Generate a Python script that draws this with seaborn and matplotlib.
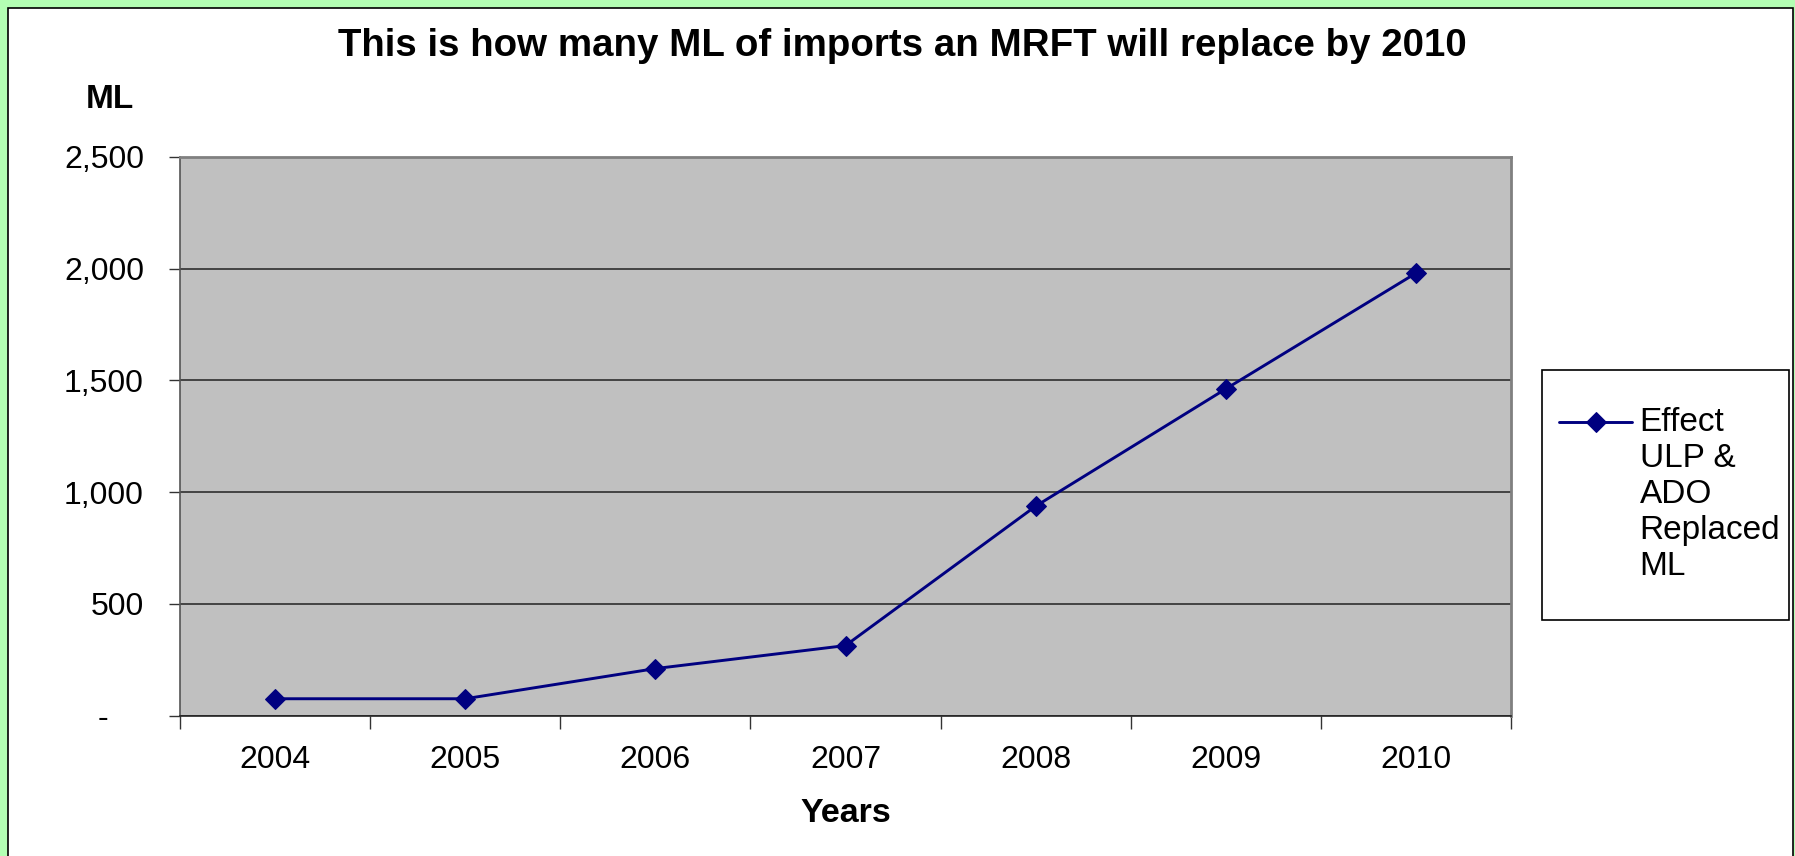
import numpy as np
import pandas as pd
import matplotlib
matplotlib.use("Agg")
import matplotlib.pyplot as plt
import seaborn as sns
from matplotlib.patches import Rectangle
from matplotlib.transforms import ScaledTranslation
from matplotlib.font_manager import FontProperties

# ---- data -------------------------------------------------------------
years = ["2004", "2005", "2006", "2007", "2008", "2009", "2010"]
replaced_ml = [75, 75, 210, 313, 937, 1462, 1980]
series_label = "Effect\nULP &\nADO\nReplaced\nML"
y_ticks = [0, 500, 1000, 1500, 2000, 2500]
y_tick_labels = ["-", "500", "1,000", "1,500", "2,000", "2,500"]

title_text = "This is how many ML of imports an MRFT will replace by 2010"

df = pd.DataFrame({"Year": years, "ML": replaced_ml})
df["pos"] = np.arange(len(years))

# ---- style ------------------------------------------------------------
sns.set_theme(style="white")
plt.rcParams["font.family"] = ["Liberation Sans", "DejaVu Sans"]
plt.rcParams["text.color"] = "black"

W, H, DPI = 1795, 856, 100
fig = plt.figure(figsize=(W / DPI, H / DPI), dpi=DPI, facecolor="#B3FFB3")

# white chart panel inside the green surround
fig.patches.append(Rectangle((8 / W, -0.01), (1793 - 8) / W, 1.01 - 8 / H,
                             transform=fig.transFigure, facecolor="white",
                             edgecolor="black", linewidth=1.2, zorder=-5))

ax = fig.add_axes([180 / W, 1 - 715.5 / H, (1511 - 180) / W, (715.5 - 157) / H])
ax.set_facecolor("#C0C0C0")

navy = "#000080"
sns.lineplot(data=df, x="pos", y="ML", ax=ax, color=navy, linewidth=2.1,
             marker="D", markersize=10.5, markeredgecolor=navy,
             markerfacecolor=navy, label=series_label, legend=False)

ax.set_xlim(-0.5, len(years) - 0.5)
ax.set_ylim(0, 2500)

# y axis
ax.set_yticks(y_ticks)
ax.set_yticklabels(y_tick_labels)
ax.tick_params(axis="y", which="major", direction="out", length=8, width=1,
               color="#333333", pad=18, labelsize=23, labelcolor="black", left=True)
ax.yaxis.grid(True, color="#222222", linewidth=1.1)
ax.set_axisbelow(True)

# x axis: labels at category centres, ticks on category boundaries
ax.set_xticks(df["pos"])
ax.set_xticklabels(years)
ax.set_xticks(np.arange(-0.5, len(years)), minor=True)
ax.tick_params(axis="x", which="major", length=0, pad=21, labelsize=23,
               labelcolor="black")
ax.tick_params(axis="x", which="minor", direction="out", length=9, width=1,
               color="#333333", bottom=True)
ax.set_xlabel("Years", fontsize=24.5, fontweight="bold", labelpad=17,
              color="black")
ax.set_ylabel("")

for side in ["top", "right"]:
    ax.spines[side].set_color("#808080")
    ax.spines[side].set_linewidth(2)
ax.spines["left"].set_color("#555555")
ax.spines["left"].set_linewidth(1.2)
ax.spines["bottom"].set_color("#222222")
ax.spines["bottom"].set_linewidth(1.2)

# "-" for zero sits left of the number column (accounting style)
zero_label = ax.yaxis.get_major_ticks()[0].label1
zero_label.set_transform(zero_label.get_transform()
                         + ScaledTranslation(-36 / DPI, 0, fig.dpi_scale_trans))

# titles
fig.text(902 / W, 1 - 46 / H, title_text, ha="center", va="center",
         fontsize=27.7, fontweight="bold")
fig.text(110 / W, 1 - 99 / H, "ML", ha="center", va="center",
         fontsize=24, fontweight="bold")

# ---- legend -----------------------------------------------------------
leg_fs = 24
renderer = fig.canvas.get_renderer()
fp = FontProperties(family=["Liberation Sans", "DejaVu Sans"], size=leg_fs)
lp_w, lp_h, lp_d = renderer.get_text_width_height_descent("lp", fp, ismath=False)
line_step_px = 37.3

handle = ax.get_lines()[0]
leg = fig.legend([handle], [series_label], loc="upper left",
                 bbox_to_anchor=(1559 / W, 1 - 407 / H),
                 frameon=False, fontsize=leg_fs, handlelength=2.2,
                 handletextpad=0.22, borderpad=0, borderaxespad=0)
for t in leg.get_texts():
    t.set_linespacing(line_step_px / lp_h)

fig.patches.append(Rectangle((1542 / W, 1 - 620 / H), (1789 - 1542) / W,
                             (620 - 370) / H, transform=fig.transFigure,
                             facecolor="white", edgecolor="black",
                             linewidth=1.2, zorder=1))

# raise the legend key to the level of the first label line
fig.canvas.draw()
key = leg.legend_handles[0]
key_y_px = key.get_transform().transform((0, key.get_ydata()[0]))[1]
target_y_px = H - 421.5
key.set_ydata(np.asarray(key.get_ydata(), dtype=float)
              + (target_y_px - key_y_px) * 72 / DPI)

fig.savefig("out.png", dpi=DPI, facecolor=fig.get_facecolor())
